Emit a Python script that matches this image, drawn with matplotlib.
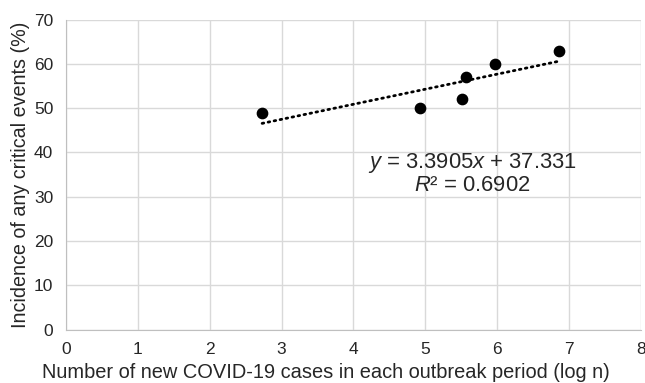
import numpy as np
import matplotlib
matplotlib.use('Agg')
from matplotlib import pyplot as plt

plt.rcParams['font.family'] = ['Liberation Sans', 'DejaVu Sans']
plt.rcParams['mathtext.fontset'] = 'custom'
plt.rcParams['mathtext.rm'] = 'Liberation Sans'
plt.rcParams['mathtext.it'] = 'Liberation Sans:italic'

# data
log_cases = [2.73, 4.92, 5.51, 5.57, 5.97, 6.86]
incidence = [49, 50, 52, 57, 60, 63]

fig = plt.figure(figsize=(6.45, 3.83), dpi=100)
ax = fig.add_axes([0.102, 0.139, 0.892, 0.81])

ax.grid(True, color='#d9d9d9', linewidth=1)
ax.set_axisbelow(True)

ax.scatter(log_cases, incidence, s=55, color='black', zorder=3)

# linear trendline
slope, intercept = np.polyfit(log_cases, incidence, 1)
xs = np.array([min(log_cases), max(log_cases)])
ax.plot(xs, slope * xs + intercept, color='black', linestyle=(0, (0.6, 1.6)),
        linewidth=2, dash_capstyle='round', zorder=2)

ax.text(5.65, 35.2, '$\\it{y}$ = 3.3905$\\it{x}$ + 37.331\n$\\it{R}$² = 0.6902',
        ha='center', va='center', fontsize=15.8, linespacing=1.0, color='#262626')

ax.set_xlim(0, 8)
ax.set_ylim(0, 70)
ax.set_xticks(range(0, 9))
ax.set_yticks(range(0, 71, 10))
ax.tick_params(length=0, labelsize=12.5, colors='#262626')
ax.tick_params(axis='x', pad=9)
ax.tick_params(axis='y', pad=9)
for s in ['top', 'right']:
    ax.spines[s].set_visible(False)
for s in ['left', 'bottom']:
    ax.spines[s].set_color('#bfbfbf')

ax.set_xlabel('Number of new COVID-19 cases in each outbreak period (log n)', fontsize=14.4,
              color='#262626')
ax.xaxis.set_label_coords(0.452, -0.106)
ax.set_ylabel('Incidence of any critical events (%)', fontsize=14.2, labelpad=3, color='#262626')

plt.savefig('out.png', dpi=100)
